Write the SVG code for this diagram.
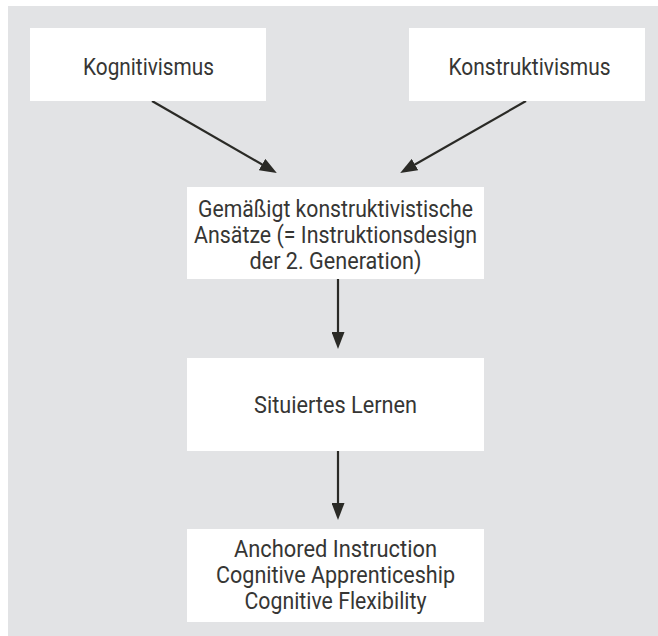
<svg xmlns="http://www.w3.org/2000/svg" width="658" height="636" viewBox="0 0 658 636">
  <defs>
    <style>
      .box { fill: #ffffff; }
      .lbl { font-family: Roboto, "Liberation Sans", sans-serif; font-size: 23.5px; fill: #363634; text-anchor: middle; }
      .con { stroke: #2a2a26; stroke-width: 2.2; fill: none; }
    </style>
    <marker id="arrow" markerUnits="userSpaceOnUse" markerWidth="17" markerHeight="13" refX="8" refY="6.5" orient="auto" viewBox="0 0 17 13">
      <path d="M0,0 L17,6.5 L0,13 Z" fill="#2a2a26"/>
    </marker>
  </defs>
  <rect x="8" y="6" width="650" height="630" fill="#e2e3e5"/>

  <g id="connectors">
    <line class="con" x1="152" y1="101" x2="269" y2="168.5" marker-end="url(#arrow)"/>
    <line class="con" x1="526" y1="101" x2="408" y2="168.5" marker-end="url(#arrow)"/>
    <line class="con" x1="338" y1="279" x2="338" y2="340" marker-end="url(#arrow)"/>
    <line class="con" x1="338" y1="451" x2="338" y2="511" marker-end="url(#arrow)"/>
  </g>

  <g id="kognitivismus">
    <rect class="box" x="30" y="28" width="236" height="73"/>
    <text class="lbl" x="148.5" y="75" textLength="131" lengthAdjust="spacingAndGlyphs">Kognitivismus</text>
  </g>

  <g id="konstruktivismus">
    <rect class="box" x="409" y="28" width="236" height="73"/>
    <text class="lbl" x="529.5" y="75" textLength="162" lengthAdjust="spacingAndGlyphs">Konstruktivismus</text>
  </g>

  <g id="gemaessigt">
    <rect class="box" x="187" y="187" width="297" height="92"/>
    <text class="lbl" x="335.5" y="217" textLength="275" lengthAdjust="spacingAndGlyphs">Gemäßigt konstruktivistische</text>
    <text class="lbl" x="335.5" y="243" textLength="283" lengthAdjust="spacingAndGlyphs">Ansätze (= Instruktionsdesign</text>
    <text class="lbl" x="335.5" y="269" textLength="172" lengthAdjust="spacingAndGlyphs">der 2. Generation)</text>
  </g>

  <g id="situiertes">
    <rect class="box" x="187" y="358" width="297" height="93"/>
    <text class="lbl" x="335.5" y="413" textLength="163" lengthAdjust="spacingAndGlyphs">Situiertes Lernen</text>
  </g>

  <g id="anchored">
    <rect class="box" x="187" y="529" width="297" height="93"/>
    <text class="lbl" x="335.5" y="557" textLength="203" lengthAdjust="spacingAndGlyphs">Anchored Instruction</text>
    <text class="lbl" x="335.5" y="583" textLength="239" lengthAdjust="spacingAndGlyphs">Cognitive Apprenticeship</text>
    <text class="lbl" x="335.5" y="609" textLength="182" lengthAdjust="spacingAndGlyphs">Cognitive Flexibility</text>
  </g>
</svg>
